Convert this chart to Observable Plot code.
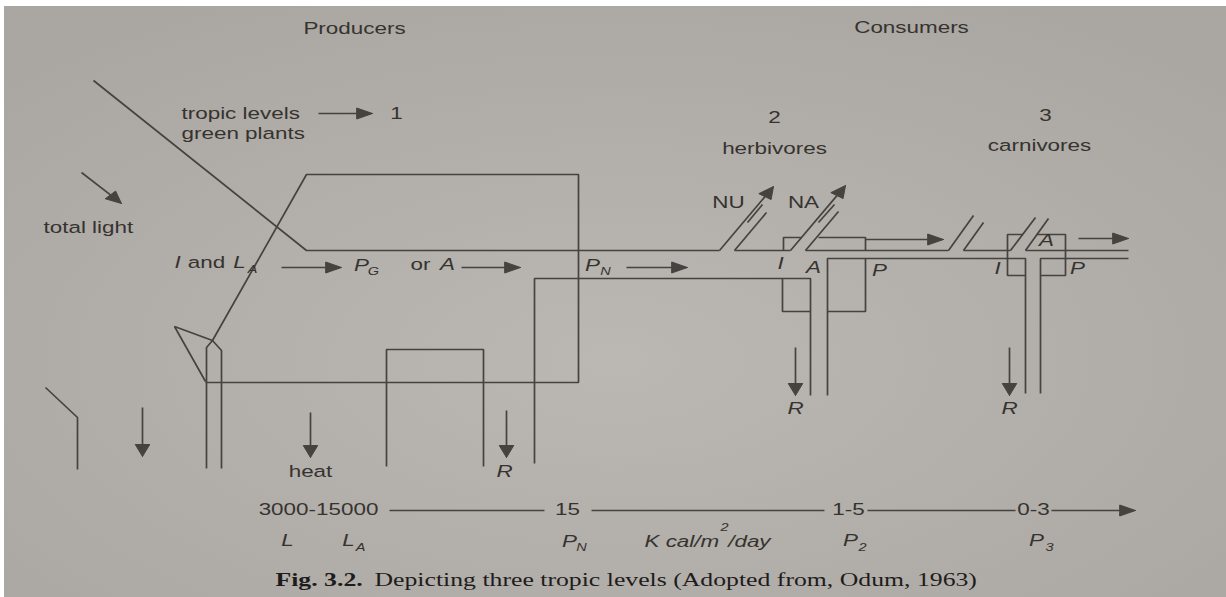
<!DOCTYPE html>
<html><head><meta charset="utf-8">
<script src="https://cdn.jsdelivr.net/npm/d3@7"></script>
<script src="https://cdn.jsdelivr.net/npm/@observablehq/plot@0.6"></script>
<style>html,body{margin:0;padding:0;background:#fff;overflow:hidden} svg{display:block}</style>
</head><body><div id="chart"></div>
<script>
// ---------- DATA (diagram geometry in picture units) ----------
const producerPaths = [
  {id:"lightRay",   pts:[[93,80],[306,250],[719,250]]},
  {id:"plantLoop",  pts:[[212,340],[306,174],[578,174],[578,382],[205,382]]},
  {id:"leaf",       pts:[[205,381],[174,326],[212,340]]},
  {id:"stem",       pts:[[206,468],[206,347],[212,340],[221,350],[221,468]]},
  {id:"respBox",    pts:[[386,466],[386,349],[483,349],[483,466]]},
  {id:"netChannel", pts:[[534,463],[534,278],[810,278],[810,395]]},
  {id:"ground",     pts:[[45,387],[77,417],[77,469]]}
];
const herbivorePaths = [
  {id:"nuRight",  pts:[[734,250],[766,212]]},
  {id:"nuMid",    pts:[[747,222],[762,204]]},
  {id:"hTop",     pts:[[734,250],[790,250]]},
  {id:"iSmall",   pts:[[783,250],[783,237],[801,237]]},
  {id:"naRight",  pts:[[805,250],[838,211]]},
  {id:"naMid",    pts:[[818,222],[834,204]]},
  {id:"hBoxTop",  pts:[[818,237],[865,237],[865,250]]},
  {id:"hTop2",    pts:[[805,250],[948,250]]},
  {id:"iBox",     pts:[[782,278],[782,311],[810,311]]},
  {id:"aChannel", pts:[[827,395],[827,258],[1025,258],[1025,393]]},
  {id:"pBox",     pts:[[865,258],[865,311],[827,311]]}
];
const carnivorePaths = [
  {id:"c1Left",   pts:[[948,250],[973,215]]},
  {id:"c1Right",  pts:[[963,250],[983,222]]},
  {id:"cTop",     pts:[[963,250],[1010,250]]},
  {id:"c2Left",   pts:[[1010,250],[1035,217]]},
  {id:"c2Right",  pts:[[1025,250],[1048,218]]},
  {id:"cBoxL",    pts:[[1022,234],[1007,234],[1007,275],[1025,275]]},
  {id:"cBoxR",    pts:[[1036,234],[1065,234],[1065,275],[1040,275]]},
  {id:"cTopR",    pts:[[1025,250],[1128,250]]},
  {id:"cLower",   pts:[[1040,393],[1040,258],[1128,258]]}
];
const scalePaths = [
  {id:"s1", pts:[[389,510],[544,510]]},
  {id:"s2", pts:[[591,510],[824,510]]},
  {id:"s3", pts:[[867,510],[1015,510]]}
];
const arrows = [
  {id:"totalLight", from:[81,172],  to:[121,203]},
  {id:"tropic",     from:[318,113], to:[372,113]},
  {id:"toPG",       from:[281,267], to:[341,267]},
  {id:"toA",        from:[461,267], to:[520,267]},
  {id:"toPN",       from:[626,267], to:[687,267]},
  {id:"nu",         from:[719,250], to:[773,186]},
  {id:"na",         from:[790,250], to:[845,185]},
  {id:"herbP",      from:[865,239], to:[943,239]},
  {id:"carnP",      from:[1078,238],to:[1128,238]},
  {id:"rHerb",      from:[795,347], to:[795,395]},
  {id:"rCarn",      from:[1009,347],to:[1009,395]},
  {id:"rProd",      from:[506,410], to:[506,457]},
  {id:"heat",       from:[310,412], to:[310,457]},
  {id:"leftDown",   from:[142,407], to:[142,456]},
  {id:"scale",      from:[1051,510],to:[1135,510]}
];
const labelsMiddle = [
  {x:354,y:28,text:"Producers"},{x:911,y:27,text:"Consumers"},
  {x:396,y:113,text:"1"},{x:774,y:117,text:"2"},{x:774,y:148,text:"herbivores"},
  {x:1045,y:115,text:"3"},{x:1039,y:145,text:"carnivores"},
  {x:206,y:262,text:"and"},{x:420,y:264,text:"or"},
  {x:728,y:202,text:"NU"},{x:803,y:202,text:"NA"},
  {x:310,y:471,text:"heat"},
  {x:318,y:509,text:"3000-15000"},{x:567,y:509,text:"15"},
  {x:848,y:509,text:"1-5"},{x:1033,y:509,text:"0-3"}
];
const labelsStart = [
  {x:181,y:113,text:"tropic levels"},{x:181,y:133,text:"green plants"},
  {x:43,y:227,text:"total light"}
];
const symbols = [
  {x:177,y:262,text:"I"},{x:239,y:262,text:"L"},{x:361,y:265,text:"P"},
  {x:447,y:264,text:"A"},{x:592,y:265,text:"P"},
  {x:780,y:263,text:"I"},{x:813,y:267,text:"A"},{x:879,y:270,text:"P"},
  {x:997,y:268,text:"I"},{x:1046,y:240,text:"A"},{x:1077,y:268,text:"P"},
  {x:795,y:408,text:"R"},{x:1009,y:408,text:"R"},{x:504,y:471,text:"R"},
  {x:287,y:540,text:"L"},{x:348,y:540,text:"L"},{x:569,y:541,text:"P"},
  {x:707,y:541,text:"K cal/m\u2009\u2009/day"},
  {x:850,y:540,text:"P"},{x:1036,y:540,text:"P"}
];
const subscripts = [
  {x:252,y:269,text:"A"},{x:373,y:271,text:"G"},{x:605,y:271,text:"N"},
  {x:360,y:547,text:"A"},{x:581,y:547,text:"N"},{x:724,y:527,text:"2"},
  {x:862,y:547,text:"2"},{x:1049,y:547,text:"3"}
];
const captionBold = [{x:275,y:579,text:"Fig. 3.2."}];
const captionText = [{x:374,y:579,text:"Depicting three tropic levels (Adopted from, Odum, 1963)"}];
const paper = [{x1:4,x2:1226,y1:6,y2:597}];

// ---------- BUILD ----------
const W = 1226, H = 597, SX = 1.32;
const INK = "#46423f", TXT = "#36332f";
const SANS = "Liberation Sans, Arial, sans-serif", SERIF = "Liberation Serif, Times New Roman, serif";
const toRows = ps => ps.flatMap(p => p.pts.map(([x,y]) => ({id:p.id, x, y})));
const lineRows = toRows([...producerPaths, ...herbivorePaths, ...carnivorePaths, ...scalePaths]);
const HL = 12, HW = 5.5;
const shaftRows = [], headRows = [];
for (const a of arrows) {
  const [x1,y1] = a.from, [x2,y2] = a.to;
  const dx = (x2-x1)/SX, dy = y2-y1, len = Math.hypot(dx,dy);
  const ux = dx/len, uy = dy/len, nx = -uy, ny = ux;
  const bx = x2 - HL*ux*SX, by = y2 - HL*uy;
  shaftRows.push({id:a.id,x:x1,y:y1},{id:a.id,x:bx,y:by});
  headRows.push({id:a.id,x:x2,y:y2},
    {id:a.id,x:bx+HW*nx*SX,y:by+HW*ny},
    {id:a.id,x:bx-HW*nx*SX,y:by-HW*ny},
    {id:a.id,x:x2,y:y2});
}
const svg = Plot.plot({
  width: W, height: H, margin: 0,
  x: {domain:[0,W], range:[0,W], axis:null},
  y: {domain:[0,H], range:[0,H], axis:null},
  style: {background:"#fff"},
  marks: [
    Plot.rect(paper, {x1:"x1",x2:"x2",y1:"y1",y2:"y2",fill:"#b5b1ad"}),
    Plot.line(lineRows, {x:"x",y:"y",z:"id",stroke:INK,strokeWidth:1.7,strokeLinecap:"butt",strokeLinejoin:"miter"}),
    Plot.line(shaftRows, {x:"x",y:"y",z:"id",stroke:INK,strokeWidth:1.7,strokeLinecap:"butt"}),
    Plot.line(headRows, {x:"x",y:"y",z:"id",stroke:INK,fill:INK,strokeWidth:1}),
    Plot.text(labelsMiddle, {x:"x",y:"y",text:"text",fontSize:17,fontFamily:SANS,fill:TXT,textAnchor:"middle"}),
    Plot.text(labelsStart, {x:"x",y:"y",text:"text",fontSize:17,fontFamily:SANS,fill:TXT,textAnchor:"start"}),
    Plot.text(symbols, {x:"x",y:"y",text:"text",fontSize:17,fontFamily:SANS,fontStyle:"italic",fill:TXT,textAnchor:"middle"}),
    Plot.text(subscripts, {x:"x",y:"y",text:"text",fontSize:11,fontFamily:SANS,fontStyle:"italic",fill:TXT,textAnchor:"middle"}),
    Plot.text(captionBold, {x:"x",y:"y",text:"text",fontSize:19.5,fontFamily:SERIF,fontWeight:"bold",fill:"#1e1c1b",textAnchor:"start"}),
    Plot.text(captionText, {x:"x",y:"y",text:"text",fontSize:19.5,fontFamily:SERIF,fill:"#1e1c1b",textAnchor:"start"})
  ]
});
// paper gradient
const defs = d3.select(svg).insert("defs", ":first-child");
const grad = defs.append("radialGradient").attr("id","paperGrad").attr("cx","50%").attr("cy","60%").attr("r","70%");
grad.append("stop").attr("offset","0%").attr("stop-color","#bbb7b3");
grad.append("stop").attr("offset","100%").attr("stop-color","#aaa6a2");
d3.select(svg).selectAll('g[aria-label="rect"], g[aria-label="rect"] rect').attr("fill","url(#paperGrad)");
// horizontal stretch of the photographed lettering
svg.querySelectorAll("text").forEach(t => {
  let tr = t.getAttribute("transform") || "";
  if (!/translate/.test(tr)) {
    const x = +(t.getAttribute("x")||0), y = +(t.getAttribute("y")||0);
    t.removeAttribute("x"); t.removeAttribute("y");
    tr = `translate(${x},${y}) ` + tr;
  }
  t.setAttribute("transform", tr + ` scale(${SX},1)`);
});
document.getElementById("chart").append(svg);
</script>
</body></html>
